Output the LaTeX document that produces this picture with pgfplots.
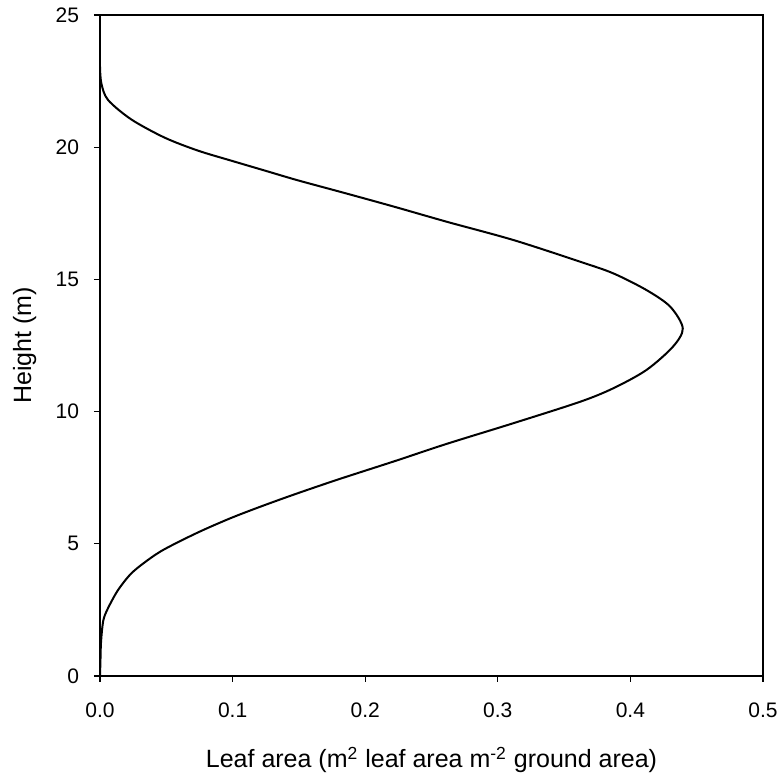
\documentclass[border=0pt]{standalone}
\usepackage{fontspec}
\setmainfont{Liberation Sans}
\usepackage{pgfplots}
\pgfplotsset{compat=1.18}

\begin{document}
\begin{tikzpicture}
  \begin{axis}[
    scale only axis,
    width  = 331.5pt,
    height = 330.5pt,
    xmin = 0, xmax = 0.5,
    ymin = 0, ymax = 25,
    xtick = {0,0.1,...,0.5},
    ytick = {0,5,...,25},
    axis line style = {line width=0.75pt},
    tick style = {line width=0.6pt, black},
    tick align = outside,
    major tick length = 3pt,
    xtick pos = bottom,
    ytick pos = left,
    /pgf/number format/assume math mode=true,
    xticklabel style = {font=\fontsize{10.5}{12}\selectfont,
                        /pgf/number format/fixed, /pgf/number format/fixed zerofill,
                        /pgf/number format/precision=1, yshift=-7pt},
    yticklabel style = {font=\fontsize{10.5}{12}\selectfont, xshift=-4pt},
    xlabel = {Leaf area (m\textsuperscript{2} leaf area m\textsuperscript{-2} ground area)},
    ylabel = {Height (m)},
    xlabel style = {font=\fontsize{12.5}{14}\selectfont,
                    at={(axis description cs:0.5,-0.139)}, anchor=base},
    ylabel style = {font=\fontsize{12.5}{14}\selectfont,
                    at={(axis description cs:-0.104,0.5)}, anchor=base},
  ]
    \addplot[black, line width=1pt, smooth, tension=0.5] coordinates {
      (0.0000,0.00) (0.0003,0.50) (0.0008,1.30) (0.0025,2.10) (0.0060,2.56)
      (0.0136,3.25) (0.0236,3.88) (0.0362,4.39) (0.0488,4.80) (0.0739,5.43)
      (0.0990,5.98) (0.1240,6.46) (0.1490,6.91) (0.1800,7.44) (0.2225,8.13)
      (0.2615,8.78) (0.3117,9.56) (0.3620,10.37) (0.3870,10.88) (0.4120,11.57)
      (0.4320,12.45) (0.4395,13.15) (0.4300,13.97) (0.4120,14.60) (0.3870,15.23)
      (0.3620,15.67) (0.3117,16.49) (0.2615,17.18) (0.2225,17.74) (0.1850,18.26)
      (0.1490,18.75) (0.1240,19.12) (0.0990,19.49) (0.0739,19.87) (0.0488,20.36)
      (0.0236,21.05) (0.0060,21.79) (0.0010,22.42) (0.0000,23.05)
    };
  \end{axis}
  \pgfresetboundingbox
  \path (-50pt,-52pt) rectangle (340.5pt,338pt);
\end{tikzpicture}
\end{document}
